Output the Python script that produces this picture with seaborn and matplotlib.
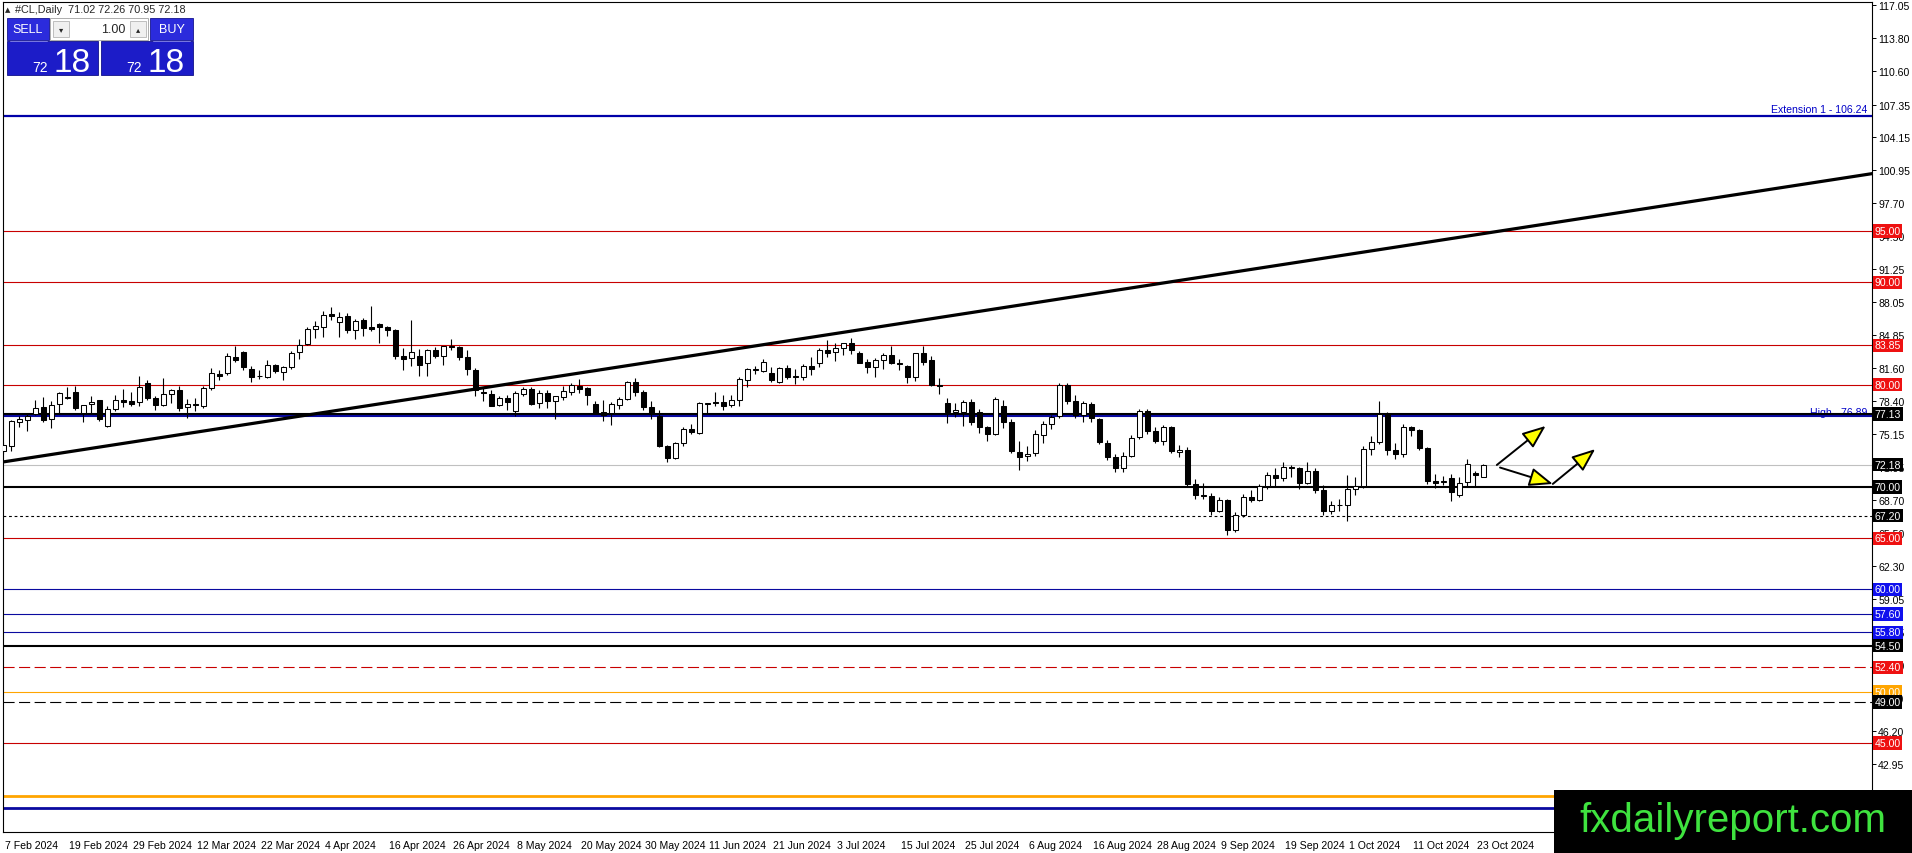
import numpy as np
import pandas as pd
import matplotlib
matplotlib.use("Agg")
import matplotlib.pyplot as plt
import matplotlib.transforms as mtransforms
import seaborn as sns
from matplotlib.patches import Rectangle

# ======================================
# DATA  (#CL Daily)
# ======================================

opens = [
    73.5, 73.97, 76.35, 76.5, 77.1, 77.8, 76.6, 78.1, 78.7, 79.3,
    77.2, 78.1, 78.45, 76.0, 77.6, 78.5, 78.35, 78.33, 80.16, 78.66,
    78.04, 79.05, 79.5, 77.78, 78.1, 77.9, 79.67, 81.07, 81.13, 82.7,
    83.2, 81.5, 80.8, 80.74, 81.88, 81.23, 81.69, 83.15, 84.0, 85.43,
    85.6, 86.93, 86.1, 86.67, 85.37, 86.35, 85.63, 85.96, 85.63, 85.37,
    82.83, 82.6, 82.83, 82.1, 83.41, 82.83, 83.8, 83.67, 82.7, 81.46,
    79.2, 79.08, 77.98, 78.69, 77.39, 79.11, 79.6, 78.2, 79.18, 78.37,
    78.76, 79.24, 79.9, 79.7, 78.1, 77.29, 77.23, 78.04, 78.59, 80.25,
    79.31, 77.81, 76.96, 74.03, 72.83, 74.29, 75.69, 75.27, 78.1, 78.3,
    78.3, 78.01, 78.53, 80.48, 81.45, 81.35, 81.09, 80.27, 81.64, 80.8,
    80.76, 81.8, 82.07, 83.37, 83.14, 83.53, 84.02, 83.11, 82.2, 81.74,
    82.39, 82.88, 82.1, 81.8, 80.76, 83.04, 82.39, 79.95, 78.16, 77.28,
    77.34, 78.32, 77.28, 75.81, 75.13, 77.9, 76.3, 73.4, 73.0, 73.3,
    75.1, 76.2, 76.9, 80.0, 78.4, 77.0, 78.1, 76.6, 74.3, 72.9,
    71.9, 73.0, 74.9, 77.4, 75.5, 74.5, 75.9, 73.4, 73.6, 70.3,
    69.2, 69.1, 67.7, 68.7, 65.8, 67.3, 69.0, 68.7, 70.1, 71.2,
    70.9, 72.0, 71.9, 70.4, 71.6, 69.7, 67.7, 68.2, 68.2, 69.8,
    70.1, 73.7, 74.4, 77.1, 73.6, 73.2, 75.9, 75.6, 73.8, 70.6,
    70.5, 70.9, 69.2, 70.5, 71.4, 71.02,
]
highs = [
    74.4, 76.57, 76.9, 77.1, 78.5, 78.8, 78.4, 79.3, 79.8, 79.9,
    78.05, 78.85, 78.5, 77.9, 79.0, 79.6, 79.3, 80.87, 80.42, 78.85,
    80.64, 79.55, 79.9, 78.6, 78.7, 79.83, 81.6, 81.46, 83.1, 83.8,
    83.25, 81.79, 81.4, 82.4, 82.0, 81.79, 83.25, 84.45, 85.6, 86.25,
    87.2, 87.58, 87.06, 87.0, 86.41, 86.51, 87.65, 86.02, 85.76, 85.43,
    83.58, 86.35, 83.48, 83.48, 83.67, 83.8, 84.45, 83.74, 83.35, 81.62,
    79.77, 79.5, 78.85, 79.02, 79.34, 79.77, 79.77, 79.5, 79.44, 78.92,
    79.9, 80.16, 80.55, 79.77, 78.37, 78.53, 78.27, 78.76, 80.32, 80.65,
    79.44, 78.37, 77.55, 74.13, 74.36, 75.86, 76.18, 78.27, 78.2, 79.24,
    79.02, 79.02, 80.74, 81.62, 81.8, 82.46, 81.74, 81.74, 81.9, 81.51,
    82.0, 82.65, 83.53, 84.35, 84.02, 84.09, 84.51, 83.24, 82.46, 82.55,
    83.04, 83.76, 82.46, 81.87, 83.11, 83.76, 82.78, 80.6, 78.65, 78.16,
    78.48, 78.55, 77.57, 75.94, 78.81, 78.5, 76.6, 74.5, 74.0, 75.6,
    76.4, 77.0, 80.2, 80.2, 79.0, 78.4, 78.3, 76.7, 74.6, 73.2,
    73.4, 75.1, 77.6, 77.6, 75.9, 76.1, 76.0, 74.1, 73.9, 70.8,
    70.4, 69.4, 69.0, 68.8, 67.6, 69.3, 69.7, 70.3, 71.5, 71.9,
    72.4, 72.1, 72.0, 72.4, 71.9, 70.2, 68.6, 68.8, 71.2, 71.0,
    74.0, 75.0, 78.4, 77.3, 74.3, 76.2, 76.0, 75.7, 73.9, 71.3,
    71.1, 71.3, 71.0, 72.7, 71.6, 72.26,
]
lows = [
    73.2, 73.48, 75.9, 75.5, 77.05, 76.35, 75.8, 77.2, 78.6, 77.55,
    76.3, 77.2, 76.4, 75.85, 77.4, 77.8, 77.9, 77.94, 78.5, 77.5,
    77.94, 78.2, 77.45, 76.7, 77.4, 77.71, 79.5, 80.48, 80.97, 82.2,
    81.46, 80.3, 80.5, 80.64, 81.13, 80.48, 81.5, 82.53, 83.84, 84.55,
    84.65, 86.35, 84.6, 85.04, 84.49, 84.78, 85.2, 84.06, 84.72, 82.5,
    81.46, 81.79, 80.8, 80.8, 82.6, 81.95, 83.41, 82.44, 80.97, 78.85,
    78.36, 77.87, 77.9, 77.55, 76.96, 78.85, 78.04, 77.71, 77.71, 76.64,
    78.53, 79.02, 79.18, 78.04, 77.16, 76.41, 76.08, 77.62, 78.46, 78.92,
    77.55, 76.64, 73.9, 72.4, 72.73, 73.97, 75.21, 75.17, 77.23, 77.88,
    77.55, 77.81, 77.94, 79.77, 81.02, 81.25, 80.21, 80.18, 80.5, 80.05,
    80.44, 80.93, 81.67, 82.65, 82.33, 82.88, 82.94, 82.07, 81.15, 80.76,
    81.51, 82.0, 81.41, 80.18, 80.37, 81.9, 79.88, 79.07, 76.27, 76.85,
    75.94, 76.04, 75.29, 74.51, 75.06, 75.8, 73.3, 71.7, 72.5, 73.0,
    74.3, 75.7, 76.7, 78.1, 76.7, 76.3, 76.3, 74.2, 72.6, 71.5,
    71.5, 72.9, 74.7, 75.2, 74.3, 74.1, 73.3, 72.9, 70.0, 68.8,
    68.8, 67.3, 67.6, 65.3, 65.6, 67.1, 68.5, 68.6, 69.8, 70.1,
    70.6, 71.0, 69.8, 70.3, 69.4, 67.3, 67.4, 67.7, 66.7, 69.2,
    69.9, 73.1, 74.2, 73.1, 72.7, 72.9, 75.0, 73.6, 70.3, 69.9,
    70.2, 68.6, 69.0, 70.0, 70.1, 70.95,
]
closes = [
    74.1, 76.41, 76.67, 76.9, 77.7, 76.5, 78.0, 79.2, 78.75, 77.7,
    78.0, 78.3, 76.6, 77.6, 78.5, 78.27, 78.14, 79.77, 78.7, 78.04,
    79.08, 79.5, 77.7, 78.1, 78.0, 79.67, 81.13, 80.87, 82.83, 82.44,
    81.7, 80.74, 80.82, 81.9, 81.3, 81.69, 83.09, 83.9, 85.43, 85.7,
    86.83, 86.74, 86.6, 85.3, 86.18, 85.53, 85.43, 85.63, 85.3, 82.76,
    82.5, 83.18, 81.95, 83.38, 82.83, 83.74, 83.67, 82.7, 81.53, 79.44,
    79.18, 77.94, 78.69, 78.27, 79.18, 79.57, 78.14, 79.18, 78.37, 78.85,
    79.4, 80.0, 79.6, 79.02, 77.23, 77.06, 78.14, 78.63, 80.25, 79.24,
    77.78, 77.16, 73.97, 72.83, 74.29, 75.66, 75.34, 78.2, 78.15, 78.24,
    77.88, 78.53, 80.55, 81.52, 81.5, 82.23, 80.44, 81.64, 80.7, 80.76,
    81.8, 81.48, 83.37, 83.11, 83.53, 84.02, 83.37, 82.13, 81.74, 82.39,
    82.88, 82.07, 82.05, 80.76, 83.04, 82.23, 79.95, 79.9, 77.34, 77.51,
    78.32, 76.37, 75.88, 75.16, 78.58, 76.3, 73.5, 72.9, 73.2, 75.2,
    76.2, 76.8, 80.0, 78.4, 77.0, 78.2, 76.7, 74.4, 72.9, 71.9,
    73.0, 74.8, 77.4, 75.5, 74.5, 75.9, 73.5, 73.6, 70.3, 69.2,
    69.1, 67.7, 68.7, 65.8, 67.3, 69.0, 68.7, 70.1, 71.2, 70.9,
    72.0, 71.9, 70.4, 71.6, 69.7, 67.7, 68.2, 68.2, 69.8, 70.1,
    73.7, 74.4, 77.1, 73.6, 73.2, 75.9, 75.6, 73.8, 70.6, 70.4,
    70.6, 69.5, 70.4, 72.2, 71.2, 72.18,
]

# trading days shown (Good Friday has no bar)
dates = pd.bdate_range("2024-02-07", "2024-10-24").drop(pd.Timestamp("2024-03-29"))

date_ticks = [
    "7 Feb 2024", "19 Feb 2024", "29 Feb 2024", "12 Mar 2024", "22 Mar 2024",
    "4 Apr 2024", "16 Apr 2024", "26 Apr 2024", "8 May 2024", "20 May 2024",
    "30 May 2024", "11 Jun 2024", "21 Jun 2024", "3 Jul 2024", "15 Jul 2024",
    "25 Jul 2024", "6 Aug 2024", "16 Aug 2024", "28 Aug 2024", "9 Sep 2024",
    "19 Sep 2024", "1 Oct 2024", "11 Oct 2024", "23 Oct 2024",
]

price_ticks = [117.05, 113.80, 110.60, 107.35, 104.15, 100.95, 97.70, 94.50,
               91.25, 88.05, 84.85, 81.60, 78.40, 75.15, 71.95, 68.70, 65.50,
               62.30, 59.05, 55.85, 52.60, 49.40, 46.20, 42.95]

# horizontal price levels
red_levels = [95.00, 90.00, 83.85, 80.00, 65.00, 45.00]
blue_levels = [60.00, 57.60, 55.80]
black_levels = [77.13, 70.00, 54.50]
dotted_level = 67.20
red_dashed_level = 52.40
orange_level = 50.00
black_dashed_level = 49.00
current_price = 72.18
extension_level = 106.24
high_level = 76.89
low_orange_level = 39.85
low_blue_level = 38.65

# trendline anchors (bar index, price)
trend_bars = [-1, 240]
trend_prices = [72.33, 101.37]

# yellow arrows (bar index, price)
arrow_starts = [(186.7, 72.15), (187.1, 71.9), (193.7, 70.3)]
arrow_ends = [(192.8, 75.96), (193.7, 70.3), (199.0, 73.7)]

df = pd.DataFrame({"date": dates, "open": opens, "high": highs,
                   "low": lows, "close": closes})
df["bar"] = np.arange(len(df))

# ======================================
# FIGURE
# ======================================

sns.set_style("white")
plt.rcParams["font.family"] = ["Liberation Sans", "DejaVu Sans"]

W, H = 1912, 854
fig = plt.figure(figsize=(W / 100, H / 100), dpi=100)
ax = fig.add_axes([3 / W, 21 / H, 1869 / W, 830 / H])
ax.set_xlim(-0.04, 233.6)
ax.set_ylim(36.31, 117.36)

RED_LINE = "#C80000"
RED_BOX = "#EE1111"
BLUE_LINE = "#0A0AA0"
BLUE_BOX = "#1010EE"
ORANGE = "#FFA500"

# levels
for p in red_levels:
    ax.axhline(p, color=RED_LINE, lw=0.8, zorder=2)
for p in blue_levels:
    ax.axhline(p, color=BLUE_LINE, lw=0.8, zorder=2)
for p in black_levels:
    ax.axhline(p, color="black", lw=1.5, zorder=2)
ax.axhline(high_level, color=BLUE_LINE, lw=1.5, zorder=2)
ax.axhline(extension_level, color="#0000A8", lw=1.6, zorder=2)
ax.axhline(dotted_level, color="black", lw=0.8, ls=(0, (2.5, 2.5)), zorder=2)
ax.axhline(red_dashed_level, color=RED_LINE, lw=0.8, ls=(0, (10, 4)), zorder=2)
ax.axhline(black_dashed_level, color="black", lw=0.8, ls=(0, (10, 4)), zorder=2)
ax.axhline(orange_level, color=ORANGE, lw=0.8, zorder=2)
ax.axhline(current_price, color="#C0C0C0", lw=0.8, zorder=2)
ax.axhline(low_orange_level, color=ORANGE, lw=2.0, zorder=2)
ax.axhline(low_blue_level, color="#0A0AA0", lw=2.0, zorder=2)

# trendline
ax.plot(trend_bars, trend_prices, color="black", lw=2.3,
        solid_capstyle="butt", zorder=4)

# candles
up = df["close"] >= df["open"]
body_low = df[["open", "close"]].min(axis=1)
body_h = (df["close"] - df["open"]).abs().clip(lower=0.06)
ax.vlines(df["bar"], df["low"], df["high"], color="black", lw=0.8, zorder=5)
ax.bar(df["bar"], body_h, bottom=body_low, width=0.62,
       color=np.where(up, "white", "black"), edgecolor="black",
       linewidth=0.75, zorder=6)

# arrows
for s, e in zip(arrow_starts, arrow_ends):
    ax.annotate("", xy=e, xytext=s,
                arrowprops=dict(arrowstyle="-|>,head_length=0.8,head_width=0.32",
                                mutation_scale=18, fc="#FFFF00", ec="black",
                                lw=1.4, shrinkA=0, shrinkB=0),
                zorder=8, annotation_clip=False)

# axes look
for sp in ax.spines.values():
    sp.set_color("black")
    sp.set_linewidth(0.8)
ax.yaxis.tick_right()
ax.set_yticks(price_ticks)
ax.set_yticklabels([f"{v:.2f}" for v in price_ticks])
ax.tick_params(axis="y", length=3, width=0.7, pad=1.5, labelsize=7.6,
               direction="out", colors="black")

tick_pos = [dates.get_loc(pd.to_datetime(t, format="%d %b %Y")) for t in date_ticks]
ax.set_xticks(tick_pos)
ax.set_xticklabels(date_ticks, ha="left")
ax.tick_params(axis="x", length=4, width=0.7, pad=1.5, labelsize=7.6,
               direction="out", colors="black")
shift = mtransforms.ScaledTranslation(2 / 100, 0, fig.dpi_scale_trans)
for lab in ax.get_xticklabels():
    lab.set_transform(lab.get_transform() + shift)

# price boxes on the axis
ytr = ax.get_yaxis_transform()


def price_box(p, fc):
    ax.annotate(f"{p:.2f}", xy=(1, p), xycoords=ytr, xytext=(2, 0),
                textcoords="offset points", ha="left", va="center",
                fontsize=7.6, color="white",
                bbox=dict(boxstyle="square,pad=0.15", fc=fc, ec="none"),
                annotation_clip=False, zorder=20)


for p in red_levels:
    price_box(p, RED_BOX)
for p in blue_levels:
    price_box(p, BLUE_BOX)
for p in black_levels:
    price_box(p, "black")
price_box(dotted_level, "black")
price_box(red_dashed_level, RED_BOX)
price_box(orange_level, ORANGE)
price_box(black_dashed_level, "black")
price_box(current_price, "black")

ax.annotate(f"Extension 1 - {extension_level:.2f}", xy=(1, extension_level),
            xycoords=ytr, xytext=(-3, 1), textcoords="offset points",
            ha="right", va="bottom", fontsize=7.6, color="#0000C8", zorder=9)
ax.annotate(f"High - {high_level:.2f}", xy=(1, black_levels[0]),
            xycoords=ytr, xytext=(-3, -2.5), textcoords="offset points",
            ha="right", va="bottom", fontsize=7.6, color="#0000C8", zorder=1)

# ======================================
# OVERLAY: header, trade panel, logo
# ======================================

ov = fig.add_axes([0, 0, 1, 1], zorder=10)
ov.set_xlim(0, W)
ov.set_ylim(H, 0)
ov.axis("off")
ov.patch.set_alpha(0)

ov.text(5, 10, "▲", fontsize=5, va="center", family="DejaVu Sans")
ov.text(15, 10, "#CL,Daily  71.02 72.26 70.95 72.18", fontsize=7.8, va="center")

BTN = "#2b2bdc"
BOX = "#1c1cc8"
ov.add_patch(Rectangle((7, 19), 42, 22, fc=BTN, ec="#15158f", lw=0.6))
ov.text(28, 30, "SELL", color="white", fontsize=9, ha="center", va="center")
ov.add_patch(Rectangle((50, 19), 98, 22, fc="white", ec="#a0a0a0", lw=0.6))
ov.add_patch(Rectangle((53, 22), 16, 16, fc="#f0f0f0", ec="#b5b5b5", lw=0.6))
ov.add_patch(Rectangle((130, 22), 16, 16, fc="#f0f0f0", ec="#b5b5b5", lw=0.6))
ov.text(61, 30, "▾", fontsize=6, ha="center", va="center", family="DejaVu Sans")
ov.text(138, 30, "▴", fontsize=6, ha="center", va="center", family="DejaVu Sans")
ov.text(125, 30, "1.00", fontsize=9, ha="right", va="center")
ov.add_patch(Rectangle((150, 19), 43, 22, fc=BTN, ec="#15158f", lw=0.6))
ov.text(171.5, 30, "BUY", color="white", fontsize=9, ha="center", va="center")
ov.plot([10, 47], [41.5, 41.5], color="#8888ee", lw=0.6)
ov.plot([153, 190], [41.5, 41.5], color="#8888ee", lw=0.6)

for x0, w in [(7, 91), (101, 92)]:
    ov.add_patch(Rectangle((x0, 42), w, 34, fc=BOX, ec="#10108a", lw=0.6))
    ov.text(x0 + 41, 72, "72", color="white", fontsize=10, ha="right", va="baseline")
    ov.text(x0 + 47, 72, "18", color="white", fontsize=24, ha="left", va="baseline")

ov.add_patch(Rectangle((1554, 791), W - 1554, H - 791, fc="black", ec="none"))
ov.text(1733, 821, "fxdailyreport.com", color="#3fe33f", fontsize=29,
        ha="center", va="center")

fig.savefig("out.png", dpi=100)
plt.close(fig)
